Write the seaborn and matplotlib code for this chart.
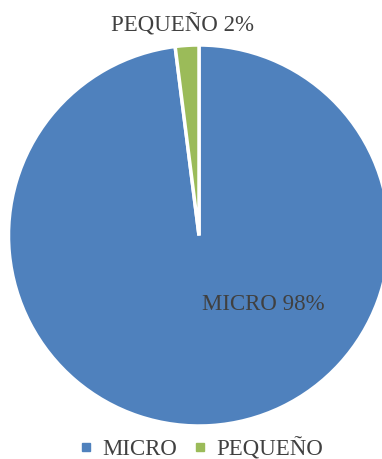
import matplotlib
matplotlib.use("Agg")
import matplotlib.pyplot as plt
from matplotlib.lines import Line2D
import seaborn as sns

# Company size shares
categories = ["MICRO", "PEQUEÑO"]
shares = [98, 2]
colors = ["#4F81BD", "#9BBB59"]

sns.set_theme(style="white")
plt.rcParams["font.family"] = ["Liberation Serif", "DejaVu Serif"]
text_color = "#404040"

W, H = 382, 459
fig = plt.figure(figsize=(W / 100, H / 100), dpi=100)

cx, cy, r = 199, 235.5, 190.5
ax = fig.add_axes([(cx - r) / W, (H - cy - r) / H, 2 * r / W, 2 * r / H])
wedges, _ = ax.pie(
    shares,
    colors=colors,
    startangle=90,
    counterclock=False,
    radius=1,
    wedgeprops=dict(edgecolor="white", linewidth=2.5),
)
ax.set_xlim(-1, 1)
ax.set_ylim(-1, 1)
ax.set_aspect("equal")
ax.axis("off")

ax.text(-0.084, 1.105, f"{categories[1]} {shares[1]}%", ha="center", va="center",
        fontsize=16.5, color=text_color, clip_on=False)
ax.text(0.339, -0.36, f"{categories[0]} {shares[0]}%", ha="center", va="center",
        fontsize=16.5, color=text_color)

handles = [Line2D([0], [0], marker="s", linestyle="", markersize=6,
                  markerfacecolor=c, markeredgecolor=c) for c in colors]
fig.legend(handles, categories, loc="center", bbox_to_anchor=(201 / W, 1 - 449 / H),
           ncol=2, frameon=False, fontsize=16.5, labelcolor=text_color,
           handlelength=0.6, handletextpad=0.4, columnspacing=0.7)

fig.savefig("out.png", dpi=100)
